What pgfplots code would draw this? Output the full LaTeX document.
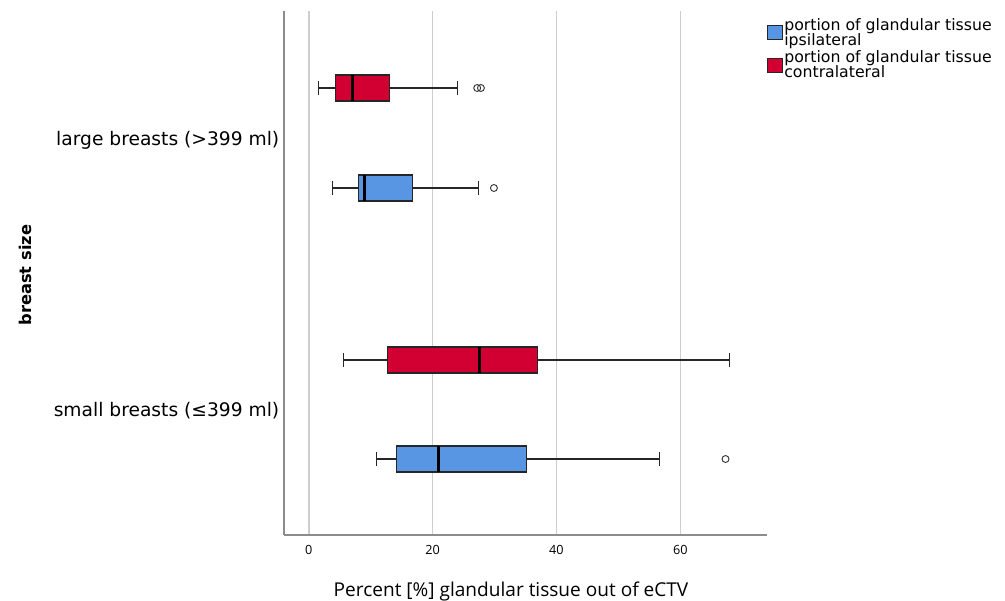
\documentclass[border=0pt]{standalone}
\usepackage{pgfplots}
\pgfplotsset{compat=1.18}
\usepgfplotslibrary{statistics}
\usepackage{fontspec}
\setmainfont{DejaVu Sans}
\newfontfamily\tickfont{Open Sans}
\definecolor{ipsi}{RGB}{88,150,228}
\definecolor{contra}{RGB}{210,0,50}
\definecolor{axgray}{RGB}{140,140,140}
\definecolor{gridgray}{RGB}{205,205,205}
\begin{document}
\begin{tikzpicture}
\begin{axis}[
  at={(213pt,48.75pt)}, anchor=south west,
  scale only axis, width=362.25pt, height=393pt,
  xmin=-4, xmax=74, ymin=11, ymax=535, y dir=reverse,
  axis lines=left, axis line style={-, draw=axgray, line width=0.9pt},
  xtick={0,20,40,60},
  xticklabel style={font=\tickfont\fontsize{9.5}{10}\selectfont, yshift=-4pt},
  /pgf/number format/assume math mode=true,
  ytick={140,411},
  yticklabels={large breasts (>399 ml), small breasts (≤399 ml)},
  yticklabel style={font=\fontsize{14}{15}\selectfont},
  major tick length=0pt,
  xmajorgrids, grid style={draw=gridgray, line width=1.1pt},
  xlabel={Percent [\%] glandular tissue out of eCTV},
  xlabel style={font=\tickfont\fontsize{14.3}{16}\selectfont,
    at={(axis description cs:0.47,-0.108)}, anchor=center},
  ylabel={breast size},
  ylabel style={font=\bfseries\fontsize{12.2}{13}\selectfont,
    at={(axis description cs:-0.536,0.496)}, anchor=center},
  boxplot/draw direction=x,
  legend image code/.code={\draw[#1] (0pt,-5.5pt) rectangle (11pt,5.5pt);},
  legend style={draw=none, fill=none, at={(axis description cs:1.0,0.99)},
    anchor=north west, inner sep=0pt,
    font=\fontsize{11.8}{9.6}\selectfont, cells={align=left},
    nodes={inner sep=1.2pt}, row sep=0.5pt,
    /tikz/every even column/.append style={column sep=0pt}},
  legend cell align=left,
]
% large breasts, contralateral
\addplot[forget plot, draw=black!85, line width=0.8pt, fill=contra,
  boxplot prepared={lower whisker=1.5, lower quartile=4.3, median=7.0,
    upper quartile=13.1, upper whisker=24.0, draw position=88,
    box extend=26, whisker extend=14},
  boxplot/every median/.style={line width=2.2pt, draw=black}] coordinates {};
% large breasts, ipsilateral
\addplot[forget plot, draw=black!85, line width=0.8pt, fill=ipsi,
  boxplot prepared={lower whisker=3.9, lower quartile=8.1, median=9.0,
    upper quartile=16.8, upper whisker=27.4, draw position=188,
    box extend=26, whisker extend=14},
  boxplot/every median/.style={line width=2.2pt, draw=black}] coordinates {};
% small breasts, contralateral
\addplot[forget plot, draw=black!85, line width=0.8pt, fill=contra,
  boxplot prepared={lower whisker=5.6, lower quartile=12.7, median=27.5,
    upper quartile=37.0, upper whisker=68.0, draw position=360,
    box extend=26, whisker extend=14},
  boxplot/every median/.style={line width=2.2pt, draw=black}] coordinates {};
% small breasts, ipsilateral
\addplot[forget plot, draw=black!85, line width=0.8pt, fill=ipsi,
  boxplot prepared={lower whisker=11.0, lower quartile=14.1, median=20.9,
    upper quartile=35.1, upper whisker=56.7, draw position=459,
    box extend=26, whisker extend=14},
  boxplot/every median/.style={line width=2.2pt, draw=black}] coordinates {};
% outliers
\addplot[only marks, mark=o, mark size=2.6pt, draw=black!80, line width=0.7pt, forget plot]
  coordinates {(27.2,88) (27.8,88) (29.9,188) (67.3,459)};
\addlegendimage{draw=black!85, line width=0.6pt, fill=ipsi}
\addlegendentry{portion of glandular tissue\\[-1.2pt]ipsilateral}
\addlegendimage{draw=black!85, line width=0.6pt, fill=contra}
\addlegendentry{portion of glandular tissue\\[-1.2pt]contralateral}
\end{axis}
\pgfresetboundingbox
\path[use as bounding box] (0,0) rectangle (753.75pt,450pt);
\end{tikzpicture}
\end{document}
